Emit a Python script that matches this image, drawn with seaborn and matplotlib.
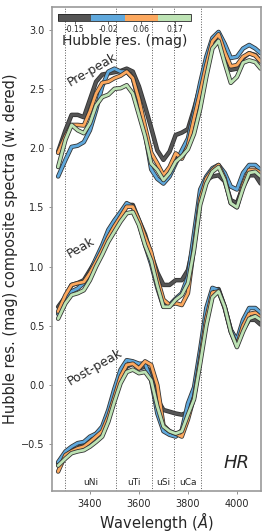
import numpy as np
import pandas as pd
import matplotlib
matplotlib.use("Agg")
import matplotlib.pyplot as plt
import matplotlib.patheffects as pe
from matplotlib.colors import ListedColormap, Normalize
import matplotlib.colorbar as mcolorbar
import seaborn as sns

# ---------------- data ----------------
wavelength = [3270, 3300, 3325, 3350, 3375, 3400, 3425, 3450, 3475, 3500, 3525, 3550,
              3575, 3600, 3625, 3650, 3675, 3700, 3725, 3750, 3775, 3800, 3825, 3850,
              3875, 3900, 3925, 3950, 3975, 4000, 4025, 4050, 4075, 4097]

bin_labels = ["-0.15", "-0.02", "0.06", "0.17"]
bin_colors = ["#555555", "#5fa8dc", "#fca85e", "#bde3b4"]

pre_gray = [1.97, 2.15, 2.28, 2.28, 2.26, 2.41, 2.56, 2.62, 2.63, 2.64, 2.65, 2.67,
            2.645, 2.52, 2.35, 2.17, 1.98, 1.90, 1.97, 2.11, 2.13, 2.16, 2.33, 2.52,
            2.74, 2.91, 2.90, 2.77, 2.66, 2.67, 2.76, 2.80, 2.785, 2.73]
pre_blue = [1.76, 1.90, 2.01, 2.02, 2.05, 2.15, 2.32, 2.52, 2.645, 2.67, 2.645, 2.645,
            2.59, 2.39, 2.125, 1.82, 1.74, 1.70, 1.76, 1.87, 1.98, 2.08, 2.30, 2.55,
            2.77, 2.93, 2.98, 2.88, 2.76, 2.77, 2.84, 2.87, 2.84, 2.80]
pre_orange = [1.96, 2.10, 2.195, 2.195, 2.19, 2.31, 2.46, 2.55, 2.56, 2.59, 2.61, 2.645,
              2.59, 2.41, 2.18, 1.96, 1.87, 1.77, 1.84, 1.955, 1.91, 2.02, 2.25, 2.47,
              2.70, 2.90, 2.96, 2.81, 2.69, 2.70, 2.77, 2.80, 2.78, 2.73]
pre_green = [1.84, 2.07, 2.195, 2.15, 2.125, 2.21, 2.36, 2.43, 2.45, 2.50, 2.505, 2.53,
             2.46, 2.28, 2.10, 1.87, 1.815, 1.73, 1.79, 1.885, 1.93, 1.99, 2.12, 2.33,
             2.60, 2.84, 2.905, 2.72, 2.55, 2.60, 2.72, 2.74, 2.725, 2.67]

peak_gray = [0.66, 0.745, 0.845, 0.86, 0.885, 0.97, 1.055, 1.155, 1.28, 1.365, 1.45, 1.52,
             1.52, 1.39, 1.27, 1.10, 0.95, 0.845, 0.845, 0.885, 0.885, 0.97, 1.20, 1.57,
             1.73, 1.76, 1.77, 1.72, 1.56, 1.535, 1.675, 1.77, 1.77, 1.70]
peak_blue = [0.60, 0.73, 0.79, 0.815, 0.86, 0.955, 1.07, 1.18, 1.31, 1.39, 1.46, 1.535,
             1.505, 1.365, 1.18, 1.02, 0.82, 0.66, 0.675, 0.73, 0.775, 0.915, 1.28, 1.65,
             1.76, 1.83, 1.857, 1.79, 1.675, 1.65, 1.79, 1.857, 1.857, 1.815]
peak_orange = [0.62, 0.76, 0.845, 0.86, 0.87, 0.945, 1.04, 1.14, 1.25, 1.34, 1.42, 1.505,
               1.505, 1.39, 1.25, 1.12, 0.90, 0.72, 0.675, 0.69, 0.675, 0.775, 1.17, 1.57,
               1.74, 1.815, 1.857, 1.745, 1.535, 1.50, 1.69, 1.815, 1.815, 1.79]
peak_green = [0.56, 0.69, 0.76, 0.775, 0.80, 0.885, 1.0, 1.10, 1.21, 1.295, 1.38, 1.45,
              1.46, 1.35, 1.18, 1.05, 0.84, 0.66, 0.66, 0.72, 0.76, 0.86, 1.14, 1.52,
              1.70, 1.80, 1.84, 1.73, 1.535, 1.50, 1.66, 1.79, 1.80, 1.76]

post_gray = [-0.66, -0.575, -0.55, -0.535, -0.49, -0.465, -0.41, -0.38, -0.25, -0.10, 0.06, 0.155,
             0.18, 0.14, 0.155, 0.11, -0.12, -0.21, -0.225, -0.24, -0.25, -0.23, -0.08, 0.22,
             0.58, 0.80, 0.81, 0.66, 0.465, 0.37, 0.465, 0.55, 0.55, 0.51]
post_blue = [-0.65, -0.56, -0.52, -0.49, -0.48, -0.435, -0.41, -0.35, -0.21, -0.03, 0.13, 0.21,
             0.20, 0.18, 0.18, 0.04, -0.24, -0.39, -0.42, -0.435, -0.38, -0.155, -0.02, 0.30,
             0.65, 0.82, 0.80, 0.66, 0.465, 0.38, 0.55, 0.65, 0.65, 0.61]
post_orange = [-0.73, -0.59, -0.56, -0.535, -0.52, -0.48, -0.435, -0.39, -0.265, -0.10, 0.07, 0.17,
               0.18, 0.14, 0.20, 0.17, 0.0, -0.34, -0.39, -0.41, -0.435, -0.29, -0.10, 0.22,
               0.56, 0.78, 0.79, 0.65, 0.45, 0.33, 0.50, 0.60, 0.61, 0.57]
post_green = [-0.68, -0.62, -0.575, -0.56, -0.55, -0.52, -0.48, -0.435, -0.31, -0.14, 0.015, 0.11,
              0.13, 0.10, 0.11, 0.04, -0.18, -0.35, -0.39, -0.41, -0.39, -0.25, -0.12, 0.18,
              0.50, 0.74, 0.79, 0.66, 0.45, 0.32, 0.45, 0.56, 0.58, 0.55]

phase_names = ["Pre-peak", "Peak", "Post-peak"]
phase_series = [[pre_gray, pre_blue, pre_orange, pre_green],
                [peak_gray, peak_blue, peak_orange, peak_green],
                [post_gray, post_blue, post_orange, post_green]]

feature_lines = [3300, 3505, 3655, 3745, 3855]
feature_names = ["uNi", "uTi", "uSi", "uCa"]

# ---------------- plot ----------------
sns.set_style("ticks")
plt.rcParams["font.family"] = ["DejaVu Sans"]

fig = plt.figure(figsize=(2.66, 5.32), dpi=100)
ax = fig.add_axes([0.1955, 0.0771, 0.7845, 0.9097])

for series in phase_series:
    for vals, col in zip(series, bin_colors):
        sns.lineplot(x=wavelength, y=vals, color=col, lw=2.0, ax=ax, sort=False)
        ax.lines[-1].set_path_effects([pe.Stroke(linewidth=3.2, foreground="#333333"),
                                       pe.Normal()])

for xv in feature_lines:
    ax.axvline(xv, color="0.35", ls=":", lw=0.7, zorder=0)

for i, name in enumerate(feature_names):
    xc = 0.5 * (feature_lines[i] + feature_lines[i + 1])
    ax.text(xc, -0.82, name, ha="center", va="center", fontsize=6.5)

ax.text(3408, 2.66, "Pre-peak", rotation=30, ha="center", va="center", fontsize=9)
ax.text(3364, 1.16, "Peak", rotation=30, ha="center", va="center", fontsize=9)
ax.text(3422, 0.155, "Post-peak", rotation=30, ha="center", va="center", fontsize=9)
ax.text(4000, -0.655, "HR", style="italic", ha="center", va="center", fontsize=13)

ax.set_xlim(3245, 4097)
ax.set_ylim(-0.894, 3.19)
ax.set_xticks([3400, 3600, 3800, 4000])
ax.set_yticks([-0.5, 0.0, 0.5, 1.0, 1.5, 2.0, 2.5, 3.0])
ax.tick_params(labelsize=7, length=2, width=0.6, color="0.5")
for sp in ax.spines.values():
    sp.set_color("0.6")
    sp.set_linewidth(1.2)
ax.set_xlabel("Wavelength ($\\AA$)", fontsize=10.5, labelpad=1)
ax.set_ylabel("Hubble res. (mag) composite spectra (w. dered)", fontsize=10.5, labelpad=2)

# colour bar
cax = fig.add_axes([0.218, 0.9605, 0.501, 0.0126])
cmap = ListedColormap(bin_colors)
cb = mcolorbar.ColorbarBase(cax, cmap=cmap, norm=Normalize(0, len(bin_colors)),
                            orientation="horizontal",
                            boundaries=np.arange(len(bin_colors) + 1),
                            ticks=np.arange(len(bin_colors)) + 0.5)
cb.set_ticklabels(bin_labels)
cb.ax.tick_params(labelsize=5.5, length=2, width=0.5, pad=1)
cb.outline.set_linewidth(0.6)
cb.set_label("Hubble res. (mag)", fontsize=10, labelpad=0)

fig.savefig("out.png", dpi=100)
